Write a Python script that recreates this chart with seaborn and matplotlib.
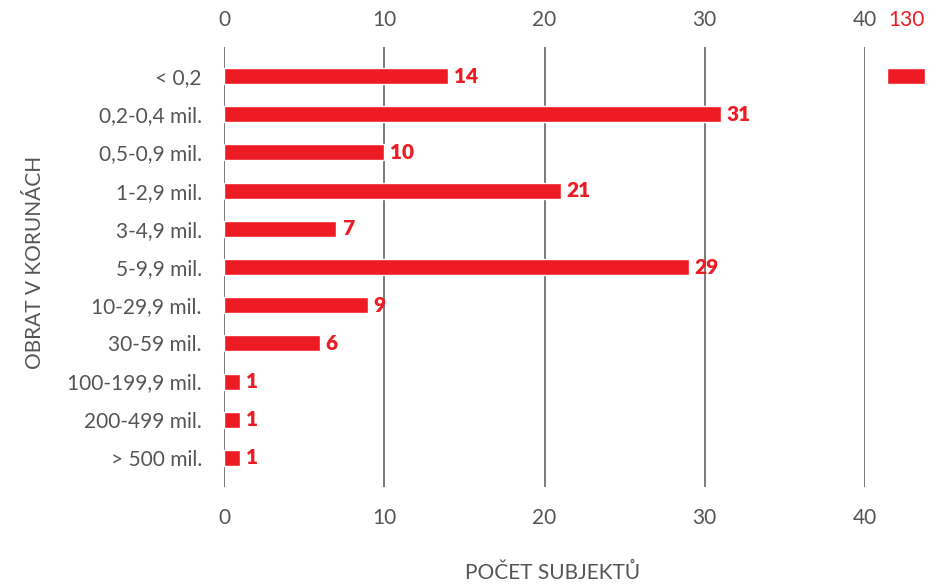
import matplotlib
matplotlib.use("Agg")
import matplotlib.pyplot as plt
import matplotlib.transforms as mtransforms
import seaborn as sns
import pandas as pd

categories = ["< 0,2", "0,2-0,4 mil.", "0,5-0,9 mil.", "1-2,9 mil.", "3-4,9 mil.",
              "5-9,9 mil.", "10-29,9 mil.", "30-59 mil.", "100-199,9 mil.",
              "200-499 mil.", "> 500 mil."]
counts = [14, 31, 10, 21, 7, 29, 9, 6, 1, 1, 1]
xticks = [0, 10, 20, 30, 40]
break_tick = 130

RED = "#ED1C24"
GREY = "#555555"
GRID = "#7a7a7a"
FS = 15

sns.set_theme(style="white")
plt.rcParams["font.family"] = ["Lato", "DejaVu Sans"]

df = pd.DataFrame({"cat": categories, "n": counts})

W, H = 949, 586
fig = plt.figure(figsize=(W / 100, H / 100), dpi=100)
ax = fig.add_axes([224 / W, 1 - 487 / H, (865 - 224) / W, 440 / H])

sns.barplot(data=df, y="cat", x="n", orient="h", color=RED, width=0.42,
            saturation=1, ax=ax)

ax.set_xlim(0, 40)
pad = 10 / 38.2
ax.set_ylim(len(categories) - 0.5 + pad, -0.5 - pad)
ax.set_xticks(xticks)
ax.set_xticklabels([str(t) for t in xticks])
ax.tick_params(axis="x", which="both", length=0, labelsize=FS, colors=GREY,
               top=True, labeltop=True, bottom=True, labelbottom=True, pad=15)
ax.tick_params(axis="y", length=0, labelsize=FS, colors=GREY, pad=16)
for t in xticks:
    ax.axvline(t, color=GRID, lw=1.4, zorder=0)
for s in ax.spines.values():
    s.set_visible(False)

for i, v in enumerate(counts):
    ax.annotate(str(v), xy=(v, i), xytext=(4, 0), textcoords="offset points",
                ha="left", va="center", color=RED, fontsize=FS,
                fontweight="heavy")

ax.set_xlabel("POČET SUBJEKTŮ", fontsize=FS, color=GREY)
ax.xaxis.set_label_coords(0.512, -0.172)
ax.set_ylabel("OBRAT V KORUNÁCH", fontsize=FS, color=GREY)
ax.yaxis.set_label_coords(-0.28, 0.511)

# broken-axis segment on the right
ax2 = fig.add_axes([887 / W, 1 - 487 / H, (925 - 887) / W, 440 / H])
ax2.barh([0], [10], left=break_tick - 5, height=0.42, color=RED)
ax2.set_xlim(break_tick - 5, break_tick + 5)
ax2.set_ylim(ax.get_ylim())
ax2.set_yticks([])
ax2.set_xticks([break_tick])
ax2.set_xticklabels([str(break_tick)])
ax2.tick_params(axis="x", length=0, labelsize=FS, colors=RED,
                top=True, labeltop=True, bottom=False, labelbottom=False, pad=15)
for s in ax2.spines.values():
    s.set_visible(False)
ax2.patch.set_alpha(0)

# nudge top tick labels slightly down
shift = mtransforms.ScaledTranslation(0, -4 / 100, fig.dpi_scale_trans)
for a in (ax, ax2):
    for tick in a.xaxis.get_major_ticks():
        tick.label2.set_transform(tick.label2.get_transform() + shift)

fig.savefig("out.png", dpi=100)
